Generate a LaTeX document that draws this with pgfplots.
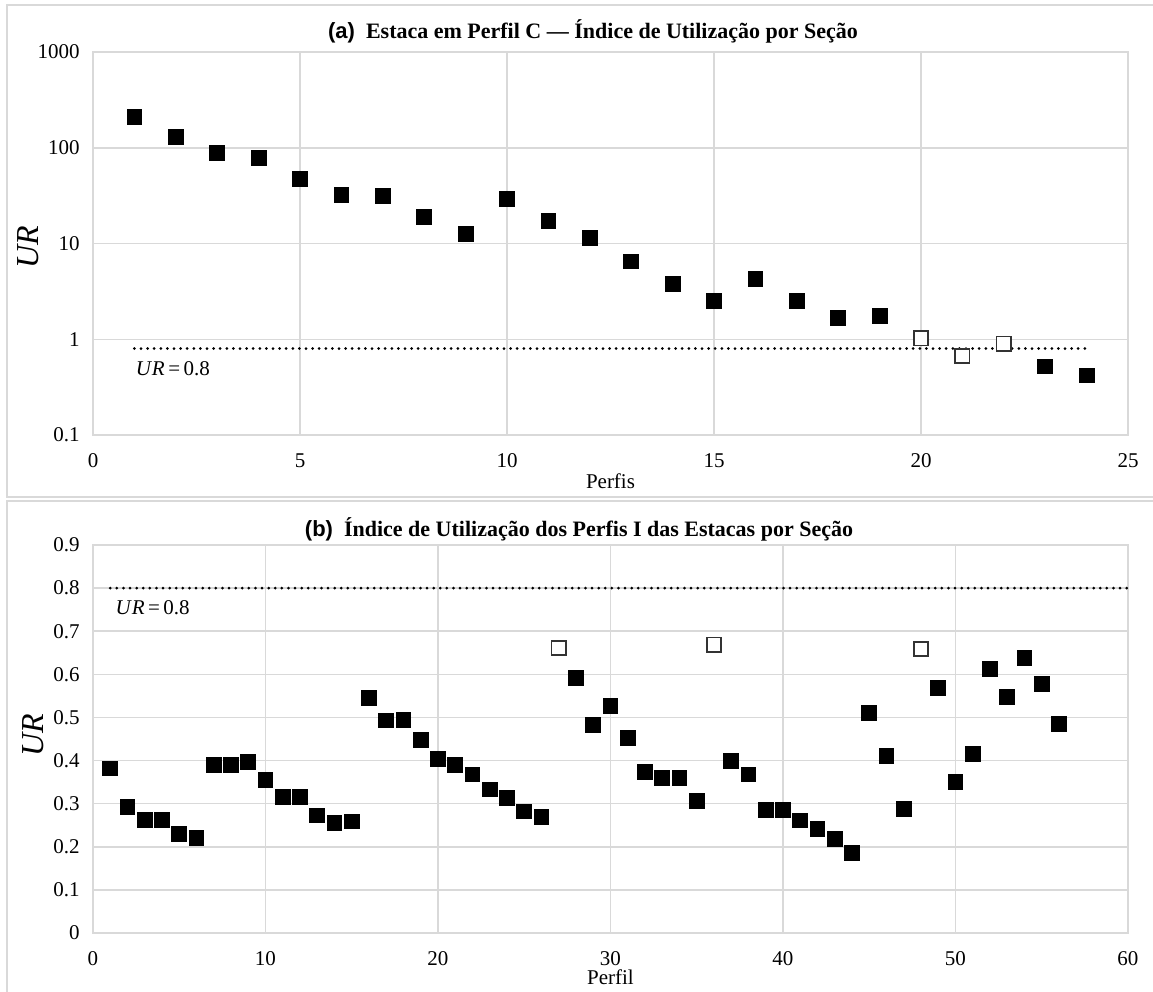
\documentclass[border=0pt]{standalone}
\usepackage{fontspec}
\setmainfont{Liberation Serif}
\newfontfamily\arialfont{Liberation Sans}
\usepackage{pgfplots}
\pgfplotsset{compat=1.18}
\usepackage{pgfplotstable}

\definecolor{gridgray}{HTML}{D9D9D9}
\definecolor{openedge}{HTML}{333333}

% Perfil C: utilisation ratio per section (log scale)
\pgfplotstableread{
x y
1 209
2 129
3 88
4 78
5 47
6 32.4
7 31.6
8 19
9 12.7
10 29
11 17.2
12 11.5
13 6.5
14 3.8
15 2.5
16 4.25
17 2.5
18 1.66
19 1.77
23 0.52
24 0.42
}\perfilCok
\pgfplotstableread{
x y
20 1.02
21 0.67
22 0.90
}\perfilCopen

% Perfis I: utilisation ratio per section
\pgfplotstableread{
x y
1 0.382
2 0.292
3 0.263
4 0.263
5 0.230
6 0.220
7 0.389
8 0.389
9 0.396
10 0.355
11 0.316
12 0.316
13 0.273
14 0.256
15 0.259
16 0.546
17 0.493
18 0.494
19 0.448
20 0.403
21 0.389
22 0.368
23 0.333
24 0.313
25 0.282
26 0.269
28 0.592
29 0.483
30 0.527
31 0.453
32 0.374
33 0.360
34 0.360
35 0.306
37 0.399
38 0.368
39 0.285
40 0.285
41 0.261
42 0.242
43 0.218
44 0.186
45 0.510
46 0.411
47 0.288
49 0.569
50 0.351
51 0.415
52 0.613
53 0.548
54 0.638
55 0.577
56 0.485
}\perfilIok
\pgfplotstableread{
x y
27 0.661
36 0.669
48 0.659
}\perfilIopen

\pgfplotsset{
  panel/.style={
    scale only axis,
    width=517.5pt,
    clip=false,
    axis line style={gridgray, line width=0.75pt},
    grid=major,
    major grid style={gridgray, line width=0.75pt},
    major tick length=0pt,
    tick style={draw=none},
    ticklabel style={font=\fontsize{10.5}{12}\selectfont, inner sep=0pt},
    xticklabel style={yshift=-9pt},
    yticklabel style={xshift=-6.5pt},
    /pgf/number format/assume math mode=true,
  },
  full/.style={only marks, mark=square*, mark size=3.7pt,
    mark options={fill=black, draw=black}},
  open/.style={only marks, mark=square*, mark size=3.6pt,
    mark options={fill=white, draw=openedge, line width=0.8pt}},
  limit/.style={black, line width=1.5pt, line cap=round,
    dash pattern=on 0pt off 3.3pt},
}
\tikzset{
  urlabel/.style={anchor=north west, inner sep=0pt,
    font=\fontsize{10.5}{12}\selectfont},
  yname/.style={font=\fontsize{16}{18}\selectfont\itshape, rotate=90},
  xname/.style={font=\fontsize{10.5}{12}\selectfont},
}

\begin{document}
\begin{tikzpicture}
\path[use as bounding box] (0,0) rectangle (576.5pt,-496pt);
\clip (0,0) rectangle (576.5pt,-496pt);

% panel frames
\draw[gridgray, line width=0.75pt] (3.5pt,-2.5pt) rectangle (600pt,-248.5pt);
\draw[gridgray, line width=0.75pt] (3.5pt,-250.5pt) rectangle (600pt,-520pt);

\node[font=\fontsize{11}{13}\selectfont\bfseries] at (296.5pt,-15.5pt)
  {{\arialfont\bfseries (a)}\ \ Estaca em Perfil C — Índice de Utilização por Seção};
\node[font=\fontsize{11}{13}\selectfont\bfseries] at (289.5pt,-264.5pt)
  {{\arialfont\bfseries (b)}\ \ Índice de Utilização dos Perfis I das Estacas por Seção};

% (a) log-scale panel
\begin{axis}[panel,
  at={(46.5pt,-26pt)}, anchor=north west,
  height=191.5pt,
  ymode=log, ymin=0.1, ymax=1000,
  xmin=0, xmax=25, xtick={0,5,10,15,20,25},
  ytick={0.1,1,10,100,1000}, yticklabels={0.1,1,10,100,1000},
]
\addplot[limit] coordinates {(1,0.8) (24,0.8)};
\addplot[full] table {\perfilCok};
\addplot[open] table {\perfilCopen};
\node[urlabel] at ([xshift=0.5pt, yshift=-6.5pt]axis cs:1,0.8)
  {\textit{U\kern0.5pt R}\thinspace=\thinspace 0.8};
\node[yname] at ([xshift=-32.5pt, yshift=-2pt]rel axis cs:0,0.5) {UR};
\node[xname] at ([yshift=-23pt]rel axis cs:0.5,0) {Perfis};
\end{axis}

% (b) linear panel
\begin{axis}[panel,
  at={(46.5pt,-272.5pt)}, anchor=north west,
  height=194pt,
  ymin=0, ymax=0.9, ytick={0,0.1,...,0.9},
  yticklabels={0,0.1,0.2,0.3,0.4,0.5,0.6,0.7,0.8,0.9},
  xmin=0, xmax=60, xtick={0,10,...,60},
]
\addplot[limit] coordinates {(1,0.8) (60,0.8)};
\addplot[full] table {\perfilIok};
\addplot[open] table {\perfilIopen};
\node[urlabel] at ([xshift=2.5pt, yshift=-6pt]axis cs:1,0.8)
  {\textit{U\kern0.5pt R}\thinspace=\thinspace 0.8};
\node[yname] at ([xshift=-30pt, yshift=2pt]rel axis cs:0,0.5) {UR};
\node[xname] at ([yshift=-22pt]rel axis cs:0.5,0) {Perfil};
\end{axis}
\end{tikzpicture}
\end{document}
